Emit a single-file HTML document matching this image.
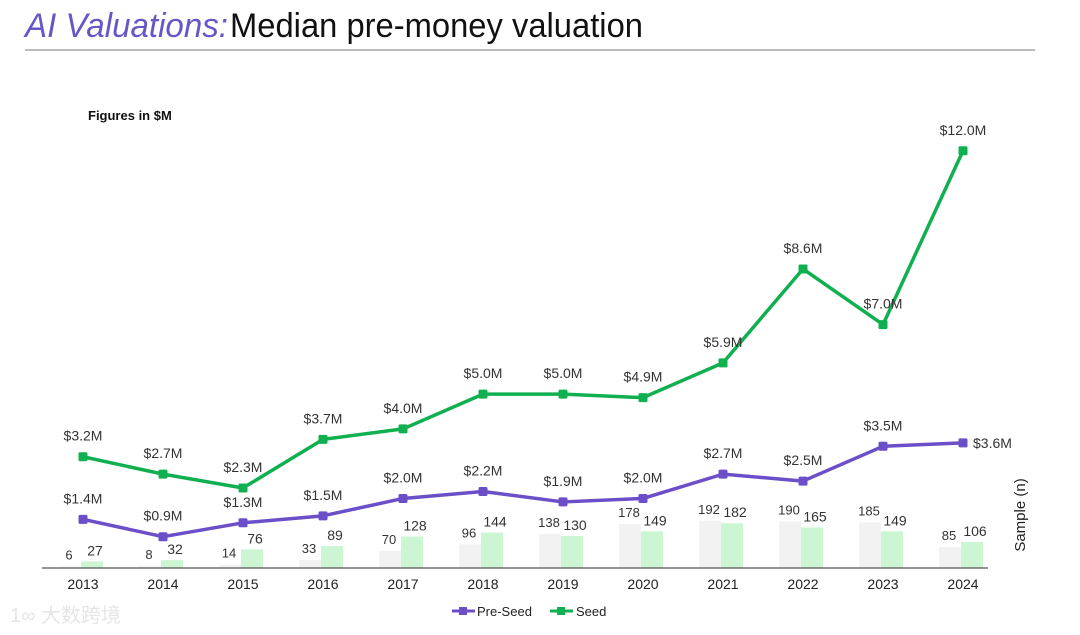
<!DOCTYPE html>
<html><head><meta charset="utf-8"><style>
body{margin:0;background:#fff;}
svg{display:block;font-family:"Liberation Sans",Arial,sans-serif;}
</style></head><body>
<svg id="chart" width="1080" height="635" viewBox="0 0 1080 635" xmlns="http://www.w3.org/2000/svg">
<text x="25" y="37" font-size="34" font-style="italic" fill="#6a55c8" textLength="203" lengthAdjust="spacingAndGlyphs">AI Valuations:</text>
<text x="230" y="37" font-size="34" fill="#111" textLength="413" lengthAdjust="spacingAndGlyphs">Median pre-money valuation</text>
<line x1="25" y1="50" x2="1035" y2="50" stroke="#777" stroke-width="1"/>
<text x="88" y="120" font-size="13" font-weight="bold" fill="#111">Figures in $M</text>
<text transform="translate(1025,515) rotate(-90)" text-anchor="middle" font-size="15" fill="#222">Sample (n)</text>
<text x="10" y="622" font-size="20" fill="#e6e6e6" font-family="'Liberation Sans','Noto Sans CJK SC',sans-serif">1∞ 大数跨境</text>
<g id="bars"></g><g id="lines"></g><g id="labels"></g>
<line x1="42" y1="568" x2="988" y2="568" stroke="#555" stroke-width="1.2"/>
<g id="xticks"></g>
<g>
<g><line x1="452" y1="611" x2="475" y2="611" stroke="#6a4fc8" stroke-width="3"/><rect x="459" y="607" width="8" height="8" fill="#6a4fc8"/><text x="477" y="616" font-size="13" fill="#222">Pre-Seed</text></g>
<g><line x1="550" y1="611" x2="573" y2="611" stroke="#10b050" stroke-width="3"/><rect x="557" y="607" width="8" height="8" fill="#10b050"/><text x="576" y="616" font-size="13" fill="#222">Seed</text></g>
</g>
</svg>
<script>
const years=["2013","2014","2015","2016","2017","2018","2019","2020","2021","2022","2023","2024"];
const preSeedVal=[1.4,0.9,1.3,1.5,2.0,2.2,1.9,2.0,2.7,2.5,3.5,3.6];
const seedVal=[3.2,2.7,2.3,3.7,4.0,5.0,5.0,4.9,5.9,8.6,7.0,12.0];
const preSeedN=[6,8,14,33,70,96,138,178,192,190,185,85];
const seedN=[27,32,76,89,128,144,130,149,182,165,149,106];
const NS="http://www.w3.org/2000/svg";
const x=i=>83+i*80;
const yV=v=>568-v*34.77;
const yN=n=>568-n*0.246;
function mk(t,a,p){const e=document.createElementNS(NS,t);for(const k in a)e.setAttribute(k,a[k]);p.appendChild(e);return e;}
const bars=document.getElementById('bars'),lines=document.getElementById('lines'),labels=document.getElementById('labels'),xt=document.getElementById('xticks');
years.forEach((yr,i)=>{
 let b=mk('rect',{x:x(i)-24,y:yN(preSeedN[i]),width:22,height:568-yN(preSeedN[i]),fill:'#f2f2f2'},bars);
 
 
 let s=mk('rect',{x:x(i)-2,y:yN(seedN[i]),width:22,height:568-yN(seedN[i]),fill:'#ccf5d3'},bars);
 
 
 let t1=mk('text',{x:x(i)-14,y:yN(preSeedN[i])-7,'text-anchor':'middle','font-size':13,fill:'#333'},labels);t1.textContent=preSeedN[i];
 
 
 let t2=mk('text',{x:x(i)+12,y:yN(seedN[i])-6,'text-anchor':'middle','font-size':14,fill:'#333'},labels);t2.textContent=seedN[i];
 
 
 let tk=mk('text',{x:x(i),y:589,'text-anchor':'middle','font-size':14,fill:'#222'},xt);tk.textContent=yr;
 
 
});
function series(vals,color,name){
 const p=mk('polyline',{points:vals.map((v,i)=>x(i)+','+yV(v)).join(' '),fill:'none',stroke:color,'stroke-width':3.5,'stroke-linejoin':'round'},lines);
 
 
 vals.forEach((v,i)=>{
  const m=mk('rect',{x:x(i)-4.5,y:yV(v)-4.5,width:9,height:9,rx:1.5,fill:color},lines);
  
  
  const last=(name==='pre-seed'&&i===vals.length-1);
  const t=mk('text',{x:last?x(i)+10:x(i),y:last?yV(v)+5:yV(v)-16,'text-anchor':last?'start':'middle','font-size':14,fill:'#333'},labels);
  t.textContent='$'+v.toFixed(1)+'M';
  
  
 });
}
series(seedVal,'#10b050','seed');
series(preSeedVal,'#6a4fc8','pre-seed');
</script>
</body></html>
